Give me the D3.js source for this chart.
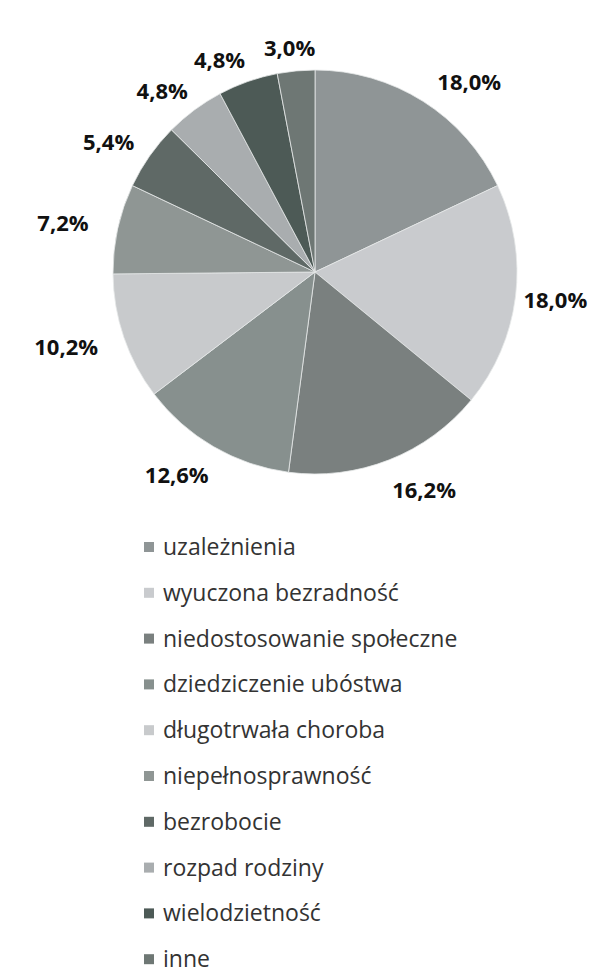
<!DOCTYPE html>
<html>
<head>
<meta charset="utf-8">
<script src="https://cdn.jsdelivr.net/npm/d3@7"></script>
<style>
  body { margin: 0; background: #fff; }
  svg { display: block; }
</style>
</head>
<body>
<div class="viz"></div>
<script>
'use strict'

const width = 591,
  height = 973;
const cx = 315,
  cy = 272,
  radius = 202;

const categories = ['uzależnienia', 'wyuczona bezradność', 'niedostosowanie społeczne',
  'dziedziczenie ubóstwa', 'długotrwała choroba', 'niepełnosprawność',
  'bezrobocie', 'rozpad rodziny', 'wielodzietność', 'inne'];
const values = [18.0, 18.0, 16.2, 12.6, 10.2, 7.2, 5.4, 4.8, 4.8, 3.0];
const colors = ['#8f9596', '#c9cbce', '#7a807f', '#87908e', '#c8cacc',
  '#8f9694', '#5f6966', '#a9adaf', '#4d5a56', '#6e7774'];

const data = categories.map((c, i) => ({name: c, value: values[i], color: colors[i]}));

let svg = d3.select('.viz')
  .append('svg')
  .attr('width', width)
  .attr('height', height);

let pie = d3.pie()
  .value(d => d.value)
  .sort(null);
let arc = d3.arc()
  .innerRadius(0)
  .outerRadius(radius);

let g = svg.append('g')
  .attr('transform', `translate(${cx},${cy})`);

g.selectAll('path')
  .data(pie(data))
  .join('path')
  .attr('d', arc)
  .attr('fill', d => d.data.color)
  .attr('stroke', '#e6e8e8')
  .attr('stroke-width', 0.8);

// labels, outside end
const fmt = v => v.toFixed(1).replace('.', ',') + '%';
g.selectAll('text.lbl')
  .data(pie(data))
  .join('text')
  .attr('class', 'lbl')
  .each(function(d) {
    let a = (d.startAngle + d.endAngle) / 2;
    let s = Math.sin(a), c = Math.cos(a);
    let r = radius + 8;
    let x = r * s;
    if (s < -0.3) x += s * Math.pow(Math.abs(s), 4) * 24;
    if (s > 0.3 && c > 0.3) x += 10;
    let y = -r * c + (c > 0 ? -c * 14 : -c * 26) + 7;
    let anchor = s > 0.3 ? 'start' : (s < -0.3 ? 'end' : 'middle');
    if (anchor === 'middle') x += s * 60;
    d3.select(this)
      .attr('x', x)
      .attr('y', y)
      .attr('text-anchor', anchor);
  })
  .style('font-family', '"Open Sans", sans-serif')
  .style('font-weight', 'bold')
  .style('font-size', '22px')
  .style('fill', '#111')
  .text(d => fmt(d.data.value));

// legend
let legend = svg.append('g')
  .attr('transform', 'translate(144,547)');
let y = d3.scaleBand()
  .domain(categories)
  .range([0, 45.8 * categories.length]);
let rows = legend.selectAll('g')
  .data(data)
  .join('g')
  .attr('transform', d => `translate(0,${y(d.name)})`);
rows.append('rect')
  .attr('x', 0)
  .attr('y', -5)
  .attr('width', 10)
  .attr('height', 10)
  .attr('fill', d => d.color);
rows.append('text')
  .attr('x', 19)
  .attr('y', 8)
  .style('font-family', '"Open Sans", sans-serif')
  .style('font-size', '23px')
  .style('fill', '#333')
  .text(d => d.name);
</script>
</body>
</html>
